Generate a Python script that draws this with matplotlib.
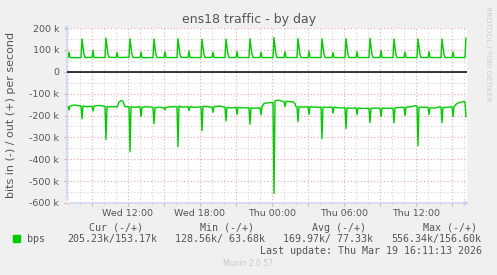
import matplotlib
matplotlib.use('Agg')
import matplotlib.pyplot as plt
from matplotlib.patches import Rectangle
from matplotlib.ticker import FixedLocator, MultipleLocator

# time in minutes since Wed 00:00, traffic in kbit/s
out_t = [415, 420, 425, 430, 460,
         485, 490, 495, 500, 505, 540, 545, 550,
         605, 610, 615, 620, 625, 660, 665, 670,
         725, 730, 735, 740, 745, 780, 785, 790,
         845, 850, 855, 860, 865, 900, 905, 910,
         965, 970, 975, 980, 985, 1020, 1025, 1030,
         1085, 1090, 1095, 1100, 1105, 1140, 1145, 1150,
         1205, 1210, 1215, 1220, 1225, 1260, 1265, 1270,
         1325, 1330, 1335, 1340, 1345, 1380, 1385, 1390,
         1445, 1450, 1455, 1460, 1465, 1500, 1505, 1510,
         1565, 1570, 1575, 1580, 1585, 1620, 1625, 1630,
         1685, 1690, 1695, 1700, 1705, 1740, 1745, 1750,
         1805, 1810, 1815, 1820, 1825, 1860, 1865, 1870,
         1925, 1930, 1935, 1940, 1945, 1980, 1985, 1990,
         2045, 2050, 2055, 2060, 2065, 2100, 2105, 2110,
         2165, 2170, 2175, 2180, 2185, 2220, 2225, 2230,
         2285, 2290, 2295, 2300, 2305, 2340, 2345, 2350,
         2405, 2410]
out_v = [65, 66, 90, 65, 64,
         65, 150, 112, 80, 65, 66, 97, 65,
         65, 154, 115, 80, 66, 65, 88, 65,
         66, 151, 112, 78, 65, 65, 90, 64,
         65, 150, 110, 78, 65, 65, 91, 65,
         65, 152, 112, 80, 66, 65, 95, 65,
         65, 149, 110, 78, 65, 66, 90, 65,
         65, 150, 112, 79, 65, 65, 92, 65,
         65, 151, 112, 80, 65, 65, 89, 65,
         65, 156.6, 115, 80, 65, 65, 92, 65,
         65, 152, 112, 79, 65, 64, 94, 65,
         65, 151, 112, 80, 65, 65, 88, 65,
         65, 152, 112, 78, 65, 65, 92, 65,
         65, 153, 113, 80, 65, 65, 96, 65,
         65, 150, 110, 78, 65, 65, 90, 65,
         65, 151, 112, 80, 65, 65, 92, 65,
         65, 150, 110, 78, 65, 65, 91, 65,
         65, 153.17]

in_t = [415, 420, 425, 430, 450, 470,
        485, 490, 495, 515, 540, 545, 550, 575,
        605, 610, 615, 635, 660, 665, 670, 675, 685, 695, 700, 705,
        725, 730, 735, 755, 780, 785, 790, 815,
        845, 850, 855, 875, 900, 905, 910, 935,
        965, 970, 975, 995, 1020, 1025, 1030, 1055,
        1085, 1090, 1095, 1115, 1140, 1145, 1150, 1175,
        1205, 1210, 1215, 1235, 1260, 1265, 1270, 1295,
        1325, 1330, 1335, 1355, 1380, 1385, 1390, 1400, 1420, 1440, 1445,
        1450, 1455, 1475, 1490, 1500, 1505, 1510, 1530, 1545, 1555, 1560,
        1565, 1570, 1575, 1595, 1620, 1625, 1630, 1655,
        1685, 1690, 1695, 1715, 1740, 1745, 1750, 1775,
        1805, 1810, 1815, 1835, 1860, 1865, 1870, 1895,
        1925, 1930, 1935, 1955, 1980, 1985, 1990, 2015,
        2045, 2050, 2055, 2075, 2100, 2105, 2110, 2135, 2160,
        2165, 2170, 2175, 2195, 2220, 2225, 2230, 2255, 2280,
        2285, 2290, 2295, 2315, 2340, 2345, 2350, 2365, 2380, 2395, 2400,
        2405, 2410]
in_v = [158, 160, 175, 157, 152, 155,
        156, 215, 157, 160, 158, 180, 157, 154,
        158, 310, 160, 160, 160, 162, 150, 138, 132, 135, 150, 160,
        160, 365, 160, 163, 160, 205, 162, 160,
        163, 237, 165, 162, 165, 175, 163, 160,
        160, 342, 158, 162, 160, 178, 160, 163,
        160, 270, 158, 160, 162, 185, 160, 157,
        162, 225, 163, 165, 163, 195, 163, 165,
        165, 240, 165, 167, 165, 196, 160, 145, 142, 140, 140,
        556.34, 132, 130, 135, 137, 160, 135, 137, 138, 145, 160,
        160, 228, 160, 162, 160, 195, 160, 162,
        162, 306, 162, 163, 162, 189, 162, 165,
        165, 260, 165, 167, 165, 196, 166, 168,
        167, 233, 167, 166, 167, 205, 166, 167,
        167, 233, 165, 163, 163, 200, 162, 160, 155,
        157, 338, 163, 162, 163, 196, 165, 166, 160,
        162, 233, 163, 163, 160, 205, 160, 145, 140, 137, 136,
        138, 205.23]

hour_ticks = [540, 720, 900, 1080, 1260, 1440, 1620, 1800, 1980, 2160, 2340]
hour_labels = ['', 'Wed 12:00', '', 'Wed 18:00', '', 'Thu 00:00', '',
               'Thu 06:00', '', 'Thu 12:00', '']
y_ticks = [200, 100, 0, -100, -200, -300, -400, -500, -600]
y_labels = ['200 k', '100 k', '0', '-100 k', '-200 k', '-300 k',
            '-400 k', '-500 k', '-600 k']

legend_heads = ['Cur (-/+)', 'Min (-/+)', 'Avg (-/+)', 'Max (-/+)']
legend_vals = ['205.23k/153.17k', '128.56k/ 63.68k', '169.97k/ 77.33k', '556.34k/156.60k']

W, H = 497, 275
green = '#00cc00'
text_c = '#555555'
major_c = '#e8a8a8'
minor_c = '#d4d4d4'
axis_c = '#c8d0f2'


def fx(px):
    return px / W


def fy(py):
    return 1 - py / H


fig = plt.figure(figsize=(W / 100, H / 100), dpi=100, facecolor='#f0f0f0')
ax = fig.add_axes([fx(67), fy(203), fx(467) - fx(67), fy(28) - fy(203)])
ax.set_facecolor('white')

ax.plot(out_t, out_v, color=green, lw=1.0, zorder=3)
ax.plot(in_t, [-v for v in in_v], color=green, lw=1.0, zorder=3)
ax.axhline(0, color='black', lw=1.1, zorder=4)

ax.set_xlim(415, 2415)
ax.set_ylim(-600, 200)

ax.xaxis.set_major_locator(FixedLocator(hour_ticks))
ax.set_xticklabels(hour_labels)
ax.xaxis.set_minor_locator(MultipleLocator(60))
ax.yaxis.set_major_locator(FixedLocator(y_ticks))
ax.set_yticklabels(y_labels)
ax.yaxis.set_minor_locator(MultipleLocator(50))

ax.set_axisbelow(True)
ax.grid(which='major', color=major_c, ls=(0, (1, 2)), lw=0.8)
ax.grid(which='minor', color=minor_c, ls=(0, (1, 2)), lw=0.8)

ax.tick_params(which='major', length=2.2, width=0.8, color=major_c,
               labelcolor=text_c, labelsize=6.8)
ax.tick_params(which='minor', length=1.6, width=0.8, color=minor_c)
ax.tick_params(axis='y', which='both', pad=3.5)
ax.tick_params(axis='x', which='both', pad=2)

for s in ax.spines.values():
    s.set_visible(False)
ax.annotate('', xy=(1.012, 0), xytext=(0, 0), xycoords='axes fraction',
            arrowprops=dict(arrowstyle='-|>', color=axis_c, lw=1, mutation_scale=6))
ax.annotate('', xy=(0, 1.035), xytext=(0, 0), xycoords='axes fraction',
            arrowprops=dict(arrowstyle='-|>', color=axis_c, lw=1, mutation_scale=6))

fig.text(fx(249), fy(19), 'ens18 traffic - by day', ha='center', va='center',
         fontsize=9, color=text_c)
fig.text(fx(11), fy(115), 'bits in (-) / out (+) per second', rotation=90,
         ha='center', va='center', fontsize=8, color=text_c)
fig.text(fx(488), fy(54), 'RRDTOOL / TOBI OETIKER', rotation=270,
         ha='center', va='center', fontsize=5.4, color='#cccccc')

mono = 'DejaVu Sans Mono'
for x, t in zip([89, 200, 312, 423], legend_heads):
    fig.text(fx(x), fy(228), t, ha='left', va='center', family=mono,
             fontsize=7.2, color=text_c)
for x, t in zip([67, 175, 283, 391], legend_vals):
    fig.text(fx(x), fy(239), t, ha='left', va='center', family=mono,
             fontsize=7.2, color=text_c)
fig.patches.append(Rectangle((fx(13), fy(242)), fx(7), 7 / H, transform=fig.transFigure,
                             color=green))
fig.text(fx(27), fy(239), 'bps', ha='left', va='center', family=mono,
         fontsize=7.2, color=text_c)
fig.text(fx(482), fy(251), 'Last update: Thu Mar 19 16:11:13 2026', ha='right',
         va='center', family=mono, fontsize=7.2, color=text_c)
fig.text(fx(248), fy(264), 'Munin 2.0.57', ha='center', va='center',
         fontsize=5.5, color='#c8c8c8')

fig.savefig('out.png', dpi=100, facecolor=fig.get_facecolor())
